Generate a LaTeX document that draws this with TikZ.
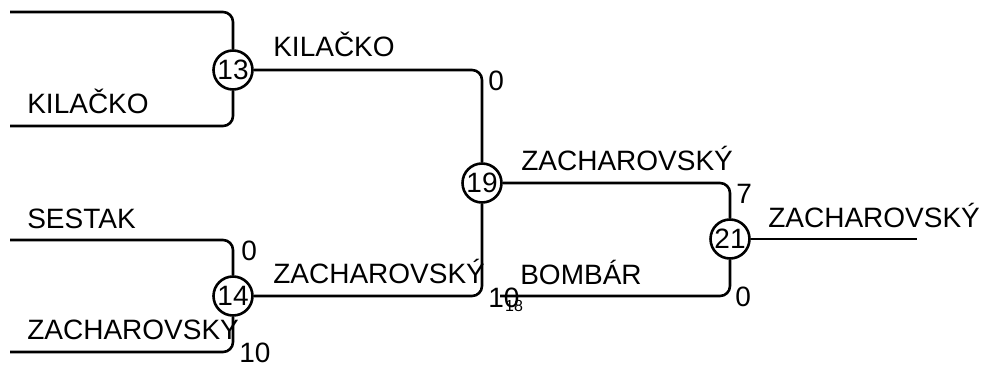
\documentclass[tikz,border=0pt]{standalone}
\usepackage{fontspec}
\setmainfont{Liberation Sans}
\begin{document}
\begin{tikzpicture}[x=0.5pt, y=-0.5pt, line width=1.3pt, line join=round,
    match/.style={circle, draw, inner sep=0pt, minimum size=19.5pt, font=\fontsize{14}{16}\selectfont},
    player/.style={anchor=base west, inner sep=0pt, font=\fontsize{14}{16}\selectfont},
    scoretop/.style={anchor=north west, inner sep=0pt, font=\fontsize{14}{16}\selectfont},
    scorebot/.style={anchor=west, inner sep=0pt, font=\fontsize{14}{16}\selectfont},
    bracket/.style={rounded corners=5pt}]
    \useasboundingbox (0,0) rectangle (983,369);

    % matches
    \node[match] (m13) at (233,70) {13};
    \node[match] (m14) at (233,296) {14};
    \node[match] (m19) at (482,183) {19};
    \node[match] (m21) at (730,239) {21};

    % free ends of the bracket
    \coordinate (a13) at (10,12);
    \coordinate (b13) at (10,126);
    \coordinate (a14) at (10,240);
    \coordinate (b14) at (10,352);
    \coordinate (b21) at (500,296);
    \coordinate (w21) at (917,239);

    % bracket lines
    \draw[bracket] (a13) -| (m13);
    \draw[bracket] (b13) -| (m13);
    \draw[bracket] (a14) -| (m14);
    \draw[bracket] (b14) -| (m14);
    \draw[bracket] (m13) -| (m19);
    \draw[bracket] (m14) -| (m19);
    \draw[bracket] (m19) -| (m21);
    \draw[bracket] (b21) -| (m21);
    \draw (m21) -- (w21);

    % players
    \foreach \n/\x/\y/\t in {p1/26/113/KILAČKO, p2/272/57/KILAČKO, p3/26/228/SESTAK,
        p4/26/339/ZACHAROVSKY, p5/272/283/ZACHAROVSKÝ, p6/520/170/ZACHAROVSKÝ,
        p7/519/284/BOMBÁR, p8/767/227/ZACHAROVSKÝ} {
        \node[player] (\n) at (\x,\y) {\t};
    }

    % scores
    \foreach \n/\x/\y/\t in {s1/487/70/0, s2/240/240/0, s3/735/183/7} {
        \node[scoretop] (\n) at (\x,\y) {\t};
    }
    \foreach \n/\x/\y/\t in {s4/238/353/10, s5/487/298/10, s6/734/297/0} {
        \node[scorebot] (\n) at (\x,\y) {\t};
    }
    \node[inner sep=0pt, font=\fontsize{8}{9}\selectfont] (s7) at (514,306) {18};
\end{tikzpicture}
\end{document}
